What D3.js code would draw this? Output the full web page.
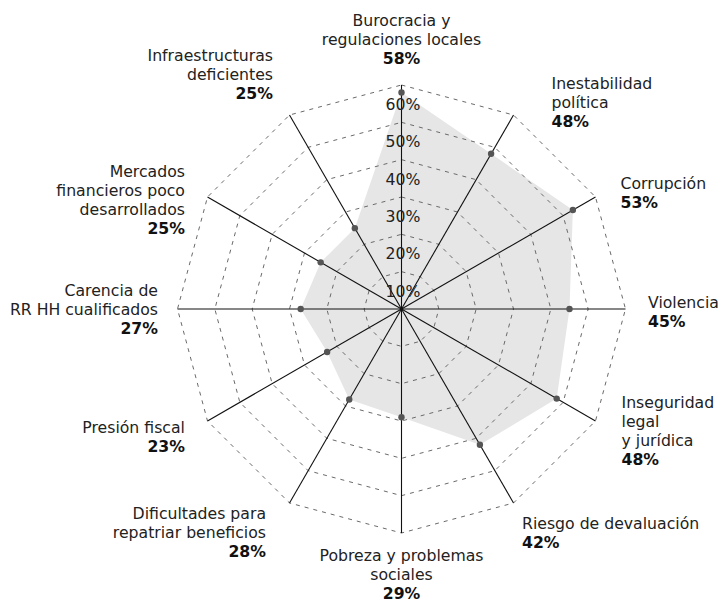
<!DOCTYPE html>
<html>
<head>
<meta charset="utf-8">
<script src="https://cdn.jsdelivr.net/npm/d3@7"></script>
<style>
  body { margin: 0; background: #fff; }
  text { font-family: "DejaVu Sans", Verdana, sans-serif; }
</style>
</head>
<body>
<div id="viz"></div>
<script>
// axes clockwise from the top
var categories = [
  ["Burocracia y", "regulaciones locales"],
  ["Inestabilidad", "política"],
  ["Corrupción"],
  ["Violencia"],
  ["Inseguridad", "legal", "y jurídica"],
  ["Riesgo de devaluación"],
  ["Pobreza y problemas", "sociales"],
  ["Dificultades para", "repatriar beneficios"],
  ["Presión fiscal"],
  ["Carencia de", "RR HH cualificados"],
  ["Mercados", "financieros poco", "desarrollados"],
  ["Infraestructuras", "deficientes"]
]
var values = [58, 48, 53, 45, 48, 42, 29, 28, 23, 27, 25, 25]
var ticks = [10, 20, 30, 40, 50, 60]

// small per-label nudges (dx, dy) so the text blocks sit as in the original
var labelNudge = [
  [0, -23.5], [27, 7], [6, 7], [0.5, 3], [7, -1], [-2.5, 10.5],
  [0, 19], [-12.5, 10.5], [-3.5, 4.5], [2.5, 0], [-3.5, 14], [-5.5, -21]
]

var width = 719,
    height = 602,
    cx = 401.5,
    cy = 309,
    radius = 224,
    lineH = 19,
    fontSize = "15.7px";

var svg = d3.select("#viz")
  .append("svg")
    .attr("width", width)
    .attr("height", height)
  .append("g");

var r = d3.scaleLinear().domain([0, 60]).range([0, radius]);
var angle = d3.scaleLinear().domain([0, categories.length]).range([0, 2 * Math.PI]);

function pt(i, rr) {
  var a = angle(i);
  return [cx + rr * Math.sin(a), cy - rr * Math.cos(a)];
}

// filled area
var area = values.map(function(v, i) { return pt(i, r(v)); });
svg.append("path")
    .attr("d", d3.line()(area) + "Z")
    .style("fill", "#e6e6e6")
    .style("stroke", "none");

// dashed rings
svg.selectAll(".ring")
  .data(ticks)
  .enter().append("path")
    .attr("class", "ring")
    .attr("d", function(t) {
      return d3.line()(categories.map(function(c, i) { return pt(i, r(t)); })) + "Z";
    })
    .style("fill", "none")
    .style("stroke", "#6a6a6a")
    .style("stroke-width", "1px")
    .style("stroke-dasharray", "4,5");

// spokes
svg.selectAll(".spoke")
  .data(categories)
  .enter().append("line")
    .attr("class", "spoke")
    .attr("x1", cx)
    .attr("y1", cy)
    .attr("x2", function(d, i) { return pt(i, radius)[0]; })
    .attr("y2", function(d, i) { return pt(i, radius)[1]; })
    .style("stroke", "#111")
    .style("stroke-width", "1.1px");

// tick labels
svg.selectAll(".tick")
  .data(ticks)
  .enter().append("text")
    .attr("class", "tick")
    .attr("x", cx + 1.5)
    .attr("y", function(t) { return cy - r(t) + 25; })
    .attr("text-anchor", "middle")
    .style("font-size", fontSize)
    .style("fill", "#222")
    .text(function(t) { return t + "%"; });

// points
svg.selectAll(".dot")
  .data(values)
  .enter().append("circle")
    .attr("class", "dot")
    .attr("r", 3.2)
    .attr("cx", function(v, i) { return pt(i, r(v))[0]; })
    .attr("cy", function(v, i) { return pt(i, r(v))[1]; })
    .style("fill", "#555");

// category labels
var labels = svg.selectAll(".label")
  .data(categories)
  .enter().append("text")
    .attr("class", "label")
    .style("font-size", fontSize)
    .style("fill", "#222")
    .attr("text-anchor", function(d, i) {
      var s = Math.sin(angle(i));
      return Math.abs(s) < 0.01 ? "middle" : (s > 0 ? "start" : "end");
    });

labels.each(function(d, i) {
  var p = pt(i, 246);
  var x = p[0] + labelNudge[i][0];
  var lines = d.concat([values[i] + "%"]);
  var n = lines.length;
  var midY = p[1] + labelNudge[i][1];
  var t = d3.select(this);
  lines.forEach(function(line, k) {
    t.append("tspan")
      .attr("x", x)
      .attr("y", midY + (k - (n - 1) / 2) * lineH + 5.5)
      .style("font-weight", k === n - 1 ? "bold" : "normal")
      .style("fill", k === n - 1 ? "#111" : "#222")
      .text(line);
  });
});
</script>
</body>
</html>
